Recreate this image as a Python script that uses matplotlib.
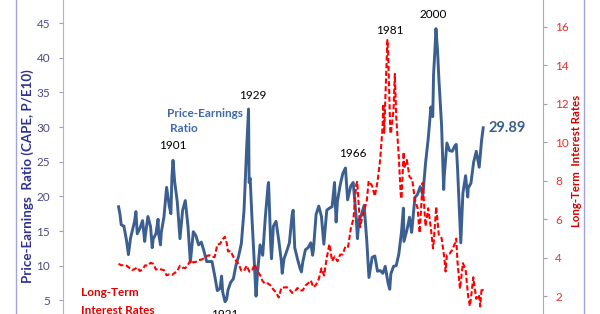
import matplotlib
matplotlib.use("Agg")
import matplotlib.pyplot as plt
from matplotlib.lines import Line2D

plt.rcParams['font.family'] = ['Lato', 'DejaVu Sans']

# Shiller CAPE (P/E10)
pe_years = [1881.0, 1881.5, 1882.0, 1883.0, 1884.0, 1884.7, 1885.5, 1886.0, 1887.0, 1887.5,
            1888.0, 1889.0, 1890.0, 1890.8, 1891.0, 1892.0, 1893.0, 1893.6, 1894.0, 1895.0,
            1895.8, 1896.0, 1896.7, 1897.0, 1898.0, 1899.0, 1899.5, 1900.0, 1900.6, 1901.0,
            1901.4, 1902.0, 1903.0, 1904.0, 1905.0, 1906.0, 1907.0, 1907.9, 1909.0, 1910.0,
            1911.0, 1912.0, 1913.0, 1914.0, 1916.0, 1917.0, 1918.0, 1919.0, 1919.6, 1920.0,
            1920.9, 1921.5, 1922.0, 1923.0, 1924.0, 1925.0, 1926.0, 1927.0, 1928.0, 1929.0,
            1929.7, 1929.9, 1930.3, 1931.0, 1932.0, 1932.5, 1933.0, 1934.0, 1935.0, 1936.0,
            1937.0, 1937.2, 1938.0, 1938.3, 1939.0, 1940.0, 1941.0, 1942.0, 1942.3, 1943.0,
            1944.0, 1945.0, 1946.0, 1946.4, 1947.0, 1948.0, 1949.0, 1949.5, 1950.0, 1951.0,
            1952.0, 1953.0, 1953.7, 1954.0, 1955.0, 1956.0, 1957.0, 1957.9, 1959.0, 1960.0,
            1961.0, 1961.9, 1962.5, 1963.0, 1964.0, 1965.0, 1966.0, 1966.8, 1968.0, 1968.9,
            1970.0, 1970.5, 1971.0, 1972.0, 1973.0, 1974.0, 1974.8, 1976.0, 1977.0, 1978.0,
            1979.0, 1980.0, 1980.9, 1982.0, 1982.6, 1983.0, 1984.0, 1985.0, 1986.0, 1987.0,
            1987.7, 1987.9, 1989.0, 1990.0, 1990.8, 1991.0, 1992.0, 1993.0, 1994.0, 1995.0,
            1996.0, 1997.0, 1998.0, 1998.7, 1999.0, 1999.5, 1999.9, 2000.5, 2001.0, 2002.0,
            2002.8, 2003.0, 2004.0, 2005.0, 2006.0, 2007.0, 2007.5, 2008.0, 2009.0, 2009.2,
            2010.0, 2011.0, 2011.8, 2012.0, 2013.0, 2014.0, 2015.0, 2016.1, 2017.0, 2017.6]
pe_values = [18.5, 17.5, 15.9, 15.7, 13.6, 11.6, 14.0, 14.8, 16.4, 17.8,
             14.6, 15.4, 16.5, 13.5, 14.3, 17.1, 15.6, 12.6, 13.9, 14.6,
             16.7, 14.7, 13.0, 14.8, 17.0, 21.3, 20.0, 18.6, 17.5, 22.9,
             25.2, 22.2, 19.2, 13.9, 18.0, 19.4, 15.7, 10.5, 14.9, 14.3,
             13.0, 13.4, 12.1, 10.6, 10.6, 8.6, 6.4, 6.7, 8.5, 6.2,
             4.8, 5.2, 6.5, 7.6, 8.1, 10.1, 11.4, 13.2, 18.0, 27.1,
             32.6, 22.0, 22.6, 16.7, 9.3, 5.6, 8.7, 13.0, 11.5, 17.1,
             21.6, 22.0, 13.0, 11.0, 15.7, 16.4, 13.7, 10.6, 8.9, 11.0,
             12.1, 13.3, 17.3, 18.0, 12.6, 11.0, 9.6, 9.1, 10.5, 12.3,
             12.6, 13.3, 11.5, 12.3, 17.4, 18.6, 17.1, 13.1, 18.0, 18.3,
             18.5, 22.0, 16.3, 19.3, 21.6, 23.3, 24.1, 19.5, 21.5, 22.0,
             17.1, 13.9, 16.5, 17.4, 18.7, 13.5, 8.3, 11.2, 11.4, 9.2,
             9.3, 8.9, 9.9, 7.4, 6.6, 8.8, 9.9, 10.0, 11.7, 14.9,
             18.3, 13.5, 15.1, 17.0, 14.8, 15.6, 19.8, 20.3, 21.4, 20.2,
             24.8, 28.3, 32.9, 31.5, 37.5, 41.0, 44.2, 41.0, 36.9, 30.3,
             21.0, 22.9, 27.7, 26.6, 26.5, 27.3, 27.5, 24.0, 15.2, 13.3,
             20.5, 22.98, 19.9, 21.2, 21.9, 24.9, 26.5, 24.2, 28.1, 29.89]

# Long-term interest rates (%)
rate_years = [1881, 1882, 1883, 1884, 1885, 1886, 1887, 1888, 1889, 1890,
              1891, 1892, 1893, 1894, 1895, 1896, 1897, 1898, 1899, 1900,
              1901, 1902, 1903, 1904, 1905, 1906, 1907, 1908, 1909, 1910,
              1911, 1912, 1913, 1914, 1915, 1916, 1917, 1918, 1919, 1920,
              1920.8, 1921.5, 1922, 1923, 1924, 1925, 1926, 1927, 1928, 1929,
              1930, 1931, 1932, 1933, 1934, 1935, 1936, 1937, 1938, 1939,
              1940, 1941, 1942, 1943, 1944, 1945, 1946, 1947, 1948, 1949,
              1950, 1951, 1952, 1953, 1954, 1955, 1956, 1957, 1958, 1959,
              1960, 1961, 1962, 1963, 1964, 1965, 1966, 1967, 1968, 1969,
              1970, 1970.4, 1971.5, 1972, 1973, 1974, 1974.7, 1976, 1977, 1978,
              1979, 1979.9, 1980.2, 1980.5, 1981, 1981.7, 1982, 1982.8, 1983, 1984,
              1984.5, 1985, 1986, 1986.7, 1987, 1987.8, 1988, 1989, 1990, 1991,
              1992, 1993, 1993.8, 1994.9, 1995, 1996, 1997, 1998, 1998.8, 1999,
              2000, 2001, 2002, 2003, 2003.5, 2004, 2005, 2006, 2007, 2007.5,
              2008, 2008.9, 2009, 2010, 2011, 2012, 2012.6, 2013, 2013.9, 2014,
              2015, 2016, 2016.5, 2017, 2017.6]
rate_values = [3.70, 3.62, 3.63, 3.60, 3.49, 3.37, 3.42, 3.51, 3.32, 3.42,
               3.62, 3.60, 3.75, 3.70, 3.40, 3.44, 3.40, 3.37, 3.10, 3.15,
               3.12, 3.22, 3.33, 3.60, 3.50, 3.47, 3.64, 3.90, 3.77, 3.80,
               3.90, 3.91, 3.98, 4.10, 4.14, 4.05, 4.05, 4.70, 4.73, 4.97,
               5.10, 4.80, 4.34, 4.36, 4.06, 3.86, 3.68, 3.34, 3.33, 3.60,
               3.29, 3.34, 3.68, 3.31, 3.12, 2.79, 2.65, 2.68, 2.56, 2.36,
               2.21, 1.95, 2.46, 2.47, 2.48, 2.37, 2.19, 2.25, 2.44, 2.31,
               2.32, 2.57, 2.68, 2.83, 2.48, 2.61, 2.90, 3.46, 3.09, 4.02,
               4.72, 3.84, 4.08, 3.83, 4.17, 4.19, 4.61, 4.58, 5.53, 6.04,
               7.79, 7.96, 5.60, 5.95, 6.46, 6.99, 8.00, 7.74, 7.21, 7.96,
               9.10, 10.80, 12.00, 10.50, 12.57, 15.32, 14.59, 10.50, 10.46, 11.67,
               13.56, 11.38, 9.19, 7.30, 7.08, 9.50, 8.67, 9.09, 8.21, 8.09,
               7.03, 6.60, 5.30, 7.90, 7.78, 5.65, 6.58, 5.54, 4.50, 4.72,
               6.66, 5.16, 5.04, 4.05, 3.30, 4.15, 4.22, 4.42, 4.76, 5.00,
               3.74, 2.40, 2.52, 3.73, 3.39, 1.97, 1.50, 1.91, 3.00, 2.86,
               1.88, 2.09, 1.48, 2.43, 2.30]

blue = '#3B5F91'
red = '#FF0000'

fig = plt.figure(figsize=(6, 3.14), dpi=100)
# plot area runs past the top and bottom of the picture (cropped chart)
ax = fig.add_axes([62.5 / 600, -0.0669, (543 - 62.5) / 600, 1.1038])
ax2 = ax.twinx()

ax.plot(pe_years, pe_values, color=blue, lw=2.1, solid_joinstyle='round')
ax2.plot(rate_years, rate_values, color=red, lw=1.5, linestyle=(0, (2.5, 1.2)))

ax.set_xlim(1860, 2040)
ax.set_ylim(0, 50)
ax2.set_ylim(0, 18)
ax.set_yticks(range(0, 51, 5))
ax2.set_yticks(range(0, 19, 2))
ax.set_xticks([])

for a in (ax, ax2):
    for s in ('top', 'bottom'):
        a.spines[s].set_visible(False)
    a.patch.set_visible(False)
ax.spines['right'].set_visible(False)
ax2.spines['left'].set_visible(False)
ax.spines['left'].set_color('#B4B4BE')
ax2.spines['right'].set_color('#A8A8C4')

ax.tick_params(axis='y', direction='out', length=3, color='#A0A0A8', pad=5.8,
               labelsize=8.5, labelcolor='#4A4A8C')
ax2.tick_params(axis='y', direction='out', length=3, color='#A0A0A8', pad=5.8,
                labelsize=8.5, labelcolor='#E8302C')

# axis titles
fig.text(28 / 600, 1 - 176 / 314, 'Price-Earnings  Ratio (CAPE, P/E10)', rotation=90,
         ha='center', va='center', fontsize=9.6, fontweight='bold', color='#2E3192')
fig.text(577 / 600, 1 - 161 / 314, 'Long-Term  Interest Rates', rotation=90,
         ha='center', va='center', fontsize=8.2, fontweight='bold', color='#D00000')

# annotations
for label, x, y in [('1901', 1901.4, 27.3), ('1929', 1931.3, 34.5), ('1966', 1968.7, 26.2),
                    ('1981', 1982.6, 43.9), ('2000', 1998.7, 46.2)]:
    ax.text(x, y, label, ha='center', va='center', fontsize=8.5, color='black')
ax.text(1920.8, 3.8, '1921', ha='center', va='top', fontsize=8.5, color='black')
ax.text(1899.1, 32.0, 'Price-Earnings', ha='left', va='center', fontsize=8.5,
        fontweight='bold', color='#4169A8')
ax.text(1900.3, 29.8, 'Ratio', ha='left', va='center', fontsize=8.5,
        fontweight='bold', color='#4169A8')
ax.text(2019.6, 29.9, '29.89', ha='left', va='center', fontsize=10.5,
        fontweight='bold', color=blue)
ax.text(1866.8, 6.1, 'Long-Term', ha='left', va='center', fontsize=8.5,
        fontweight='bold', color='#E00000')
ax.text(1866.8, 3.6, 'Interest Rates', ha='left', va='center', fontsize=8.5,
        fontweight='bold', color='#E00000')

# outer chart frame edges
for xp in (15.5, 584):
    fig.add_artist(Line2D([xp / 600, xp / 600], [0, 1], transform=fig.transFigure,
                          color='#A4A4DC', lw=1))

fig.savefig('out.png', dpi=100)
